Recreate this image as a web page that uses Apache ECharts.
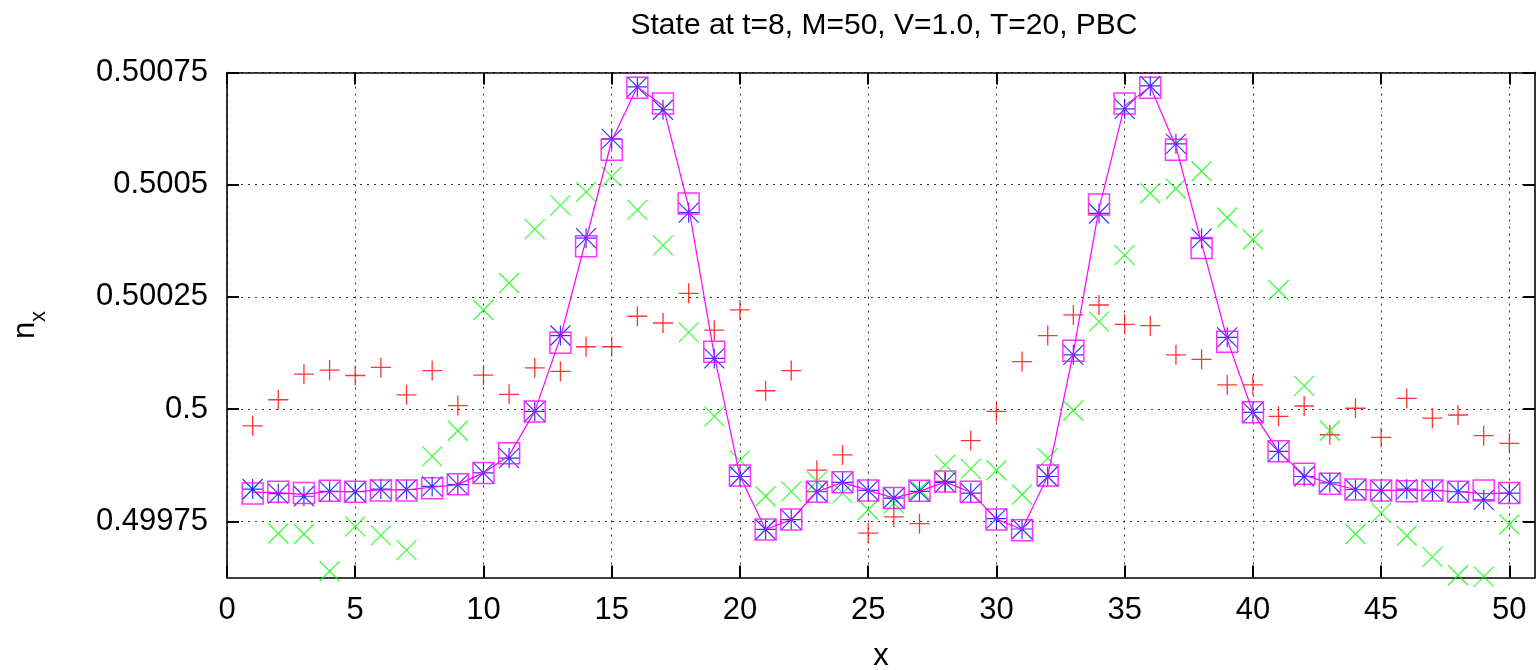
<!DOCTYPE html>
<html>
<head>
<meta charset="utf-8">
<script src="https://cdn.jsdelivr.net/npm/echarts@6/dist/echarts.min.js"></script>
<style>
html,body{margin:0;padding:0;background:#fff;}
#chart{width:1540px;height:670px;}
</style>
</head>
<body>
<div id="chart"></div>
<script>
const titleText = 'State at t=8, M=50, V=1.0, T=20, PBC';
const xValues = [1,2,3,4,5,6,7,8,9,10,11,12,13,14,15,16,17,18,19,20,21,22,23,24,25,26,27,28,29,30,31,32,33,34,35,36,37,38,39,40,41,42,43,44,45,46,47,48,49,50];
const xTicks = [0,5,10,15,20,25,30,35,40,45,50];
const yTicks = [0.49975,0.5,0.50025,0.5005,0.50075];
const yTickLabels = ['0.49975','0.5','0.50025','0.5005','0.50075'];

const redPlus = [0.499963,0.500021,0.500078,0.500087,0.500075,0.500093,0.500032,0.500086,0.500008,0.500076,
  0.500033,0.500092,0.500084,0.500139,0.500139,0.500207,0.500192,0.500258,0.500176,0.500221,
  0.500041,0.500086,0.499864,0.499898,0.499724,0.499760,0.499745,0.499839,0.499930,0.499995,
  0.500106,0.500164,0.500210,0.500232,0.500189,0.500186,0.500121,0.500111,0.500054,0.500054,
  0.499984,0.500007,0.499943,0.500002,0.499937,0.500024,0.499980,0.499987,0.499941,0.499924];
const greenCross = [0.499822,0.499723,0.499722,0.499639,0.499739,0.499719,0.499686,0.499895,0.499952,0.500221,
  0.500281,0.500401,0.500454,0.500484,0.500518,0.500444,0.500365,0.500171,0.499984,0.499886,
  0.499806,0.499817,0.499839,0.499813,0.499776,0.499790,0.499821,0.499876,0.499867,0.499864,
  0.499810,0.499891,0.499997,0.500195,0.500343,0.500481,0.500491,0.500530,0.500427,0.500378,
  0.500265,0.500052,0.499952,0.499722,0.499769,0.499718,0.499671,0.499630,0.499627,0.499743];
const blueStar = [0.499822,0.499812,0.499806,0.499817,0.499816,0.499822,0.499821,0.499828,0.499832,0.499858,
  0.499891,0.499995,0.500164,0.500381,0.500602,0.500718,0.500667,0.500438,0.500113,0.499850,
  0.499732,0.499754,0.499816,0.499837,0.499819,0.499802,0.499817,0.499837,0.499813,0.499756,
  0.499733,0.499850,0.500121,0.500436,0.500669,0.500720,0.500591,0.500380,0.500160,0.499993,
  0.499906,0.499850,0.499836,0.499821,0.499819,0.499822,0.499819,0.499816,0.499798,0.499813];
const magentaSquare = [0.499812,0.499816,0.499813,0.499818,0.499816,0.499819,0.499819,0.499824,0.499833,0.499858,
  0.499902,0.499995,0.500148,0.500363,0.500578,0.500716,0.500681,0.500458,0.500128,0.499852,
  0.499732,0.499754,0.499816,0.499837,0.499819,0.499802,0.499818,0.499839,0.499816,0.499754,
  0.499730,0.499852,0.500130,0.500456,0.500681,0.500716,0.500578,0.500359,0.500150,0.499993,
  0.499906,0.499856,0.499834,0.499821,0.499819,0.499817,0.499819,0.499816,0.499819,0.499813];
const magentaLine = [0.499815,0.499814,0.499810,0.499817,0.499816,0.499820,0.499820,0.499826,0.499832,0.499858,
  0.499897,0.499995,0.500160,0.500378,0.500598,0.500718,0.500676,0.500450,0.500120,0.499851,
  0.499732,0.499754,0.499816,0.499837,0.499819,0.499802,0.499817,0.499838,0.499815,0.499755,
  0.499732,0.499851,0.500126,0.500446,0.500676,0.500718,0.500585,0.500370,0.500155,0.499993,
  0.499906,0.499853,0.499835,0.499821,0.499819,0.499819,0.499819,0.499816,0.499812,0.499813];

function pairs(arr){ return xValues.map((x,i)=>[x, arr[i]]); }

const FONT = '"Liberation Sans", Arial, sans-serif';
const X_MIN = 0, X_MAX = 51, Y_MIN = 0.499625, Y_MAX = 0.50075;

const gridLine = {show:true, lineStyle:{color:'#333', width:1, type:[2,5]}};
const axisLineStyle = {show:true, onZero:false, lineStyle:{color:'#000', width:1.6}};

function ticks(vals){
  return {show:true, inside:true, length:12, lineStyle:{color:'#000', width:2}, customValues:vals};
}

function yLabel(v){
  for (let i=0;i<yTicks.length;i++){ if (Math.abs(v-yTicks[i])<1e-9) return yTickLabels[i]; }
  return '';
}

const chart = echarts.init(document.getElementById('chart'), null, {renderer:'canvas'});
chart.setOption({
  animation:false,
  backgroundColor:'#fff',
  title:{
    text:titleText, left:879, top:6, textAlign:'center',
    textStyle:{fontFamily:FONT, fontSize:30, fontWeight:'normal', color:'#000'}
  },
  grid:{left:227, right:5, top:72.5, bottom:92.5, containLabel:false, outerBoundsMode:'none'},
  xAxis:[{
    type:'value', min:X_MIN, max:X_MAX, position:'bottom',
    name:'x', nameLocation:'middle', nameGap:63,
    nameTextStyle:{fontFamily:FONT, fontSize:31, color:'#000'},
    axisLine:axisLineStyle,
    axisTick:ticks(xTicks),
    axisLabel:{customValues:xTicks, margin:17, fontFamily:FONT, fontSize:31, color:'#000'},
    splitLine:gridLine
  },{
    type:'value', min:X_MIN, max:X_MAX, position:'top',
    axisLine:axisLineStyle,
    axisTick:ticks(xTicks),
    axisLabel:{show:false, customValues:xTicks},
    splitLine:{show:false}
  }],
  yAxis:[{
    type:'value', min:Y_MIN, max:Y_MAX, position:'left',
    name:'{n|n}{s|x}', nameLocation:'middle', nameGap:177, nameRotate:90,
    nameTextStyle:{fontFamily:FONT, color:'#000', rich:{
      n:{fontFamily:FONT, fontSize:31, lineHeight:40, verticalAlign:'top', color:'#000'},
      s:{fontFamily:FONT, fontSize:22, lineHeight:26, verticalAlign:'bottom', color:'#000'}
    }},
    axisLine:axisLineStyle,
    axisTick:ticks(yTicks),
    axisLabel:{customValues:yTicks, formatter:yLabel, margin:19, fontFamily:FONT, fontSize:31, color:'#000'},
    splitLine:gridLine
  },{
    type:'value', min:Y_MIN, max:Y_MAX, position:'right',
    axisLine:axisLineStyle,
    axisTick:ticks(yTicks),
    axisLabel:{show:false, customValues:yTicks},
    splitLine:{show:false}
  }],
  series:[
    {type:'scatter', name:'plus', data:pairs(redPlus), symbol:'path://M10,0L10,20M0,10L20,10', symbolSize:20,
     itemStyle:{color:'transparent', borderColor:'#ff0000', borderWidth:1.3}, silent:true, z:2},
    {type:'scatter', name:'cross', data:pairs(greenCross), symbol:'path://M0,0L20,20M0,20L20,0', symbolSize:20,
     itemStyle:{color:'transparent', borderColor:'#00ff00', borderWidth:1.2}, silent:true, z:3},
    {type:'scatter', name:'star', data:pairs(blueStar), symbol:'path://M10,0L10,20M0,10L20,10M0,0L20,20M0,20L20,0', symbolSize:20,
     itemStyle:{color:'transparent', borderColor:'#0000ff', borderWidth:1.2}, silent:true, z:4},
    {type:'scatter', name:'square', data:pairs(magentaSquare), symbol:'rect', symbolSize:21,
     itemStyle:{color:'transparent', borderColor:'#ff00ff', borderWidth:1.5}, silent:true, z:5},
    {type:'line', name:'line', data:pairs(magentaLine), symbol:'none', showSymbol:false,
     lineStyle:{color:'#ff00ff', width:1.2}, silent:true, z:6}
  ]
});
</script>
</body>
</html>
